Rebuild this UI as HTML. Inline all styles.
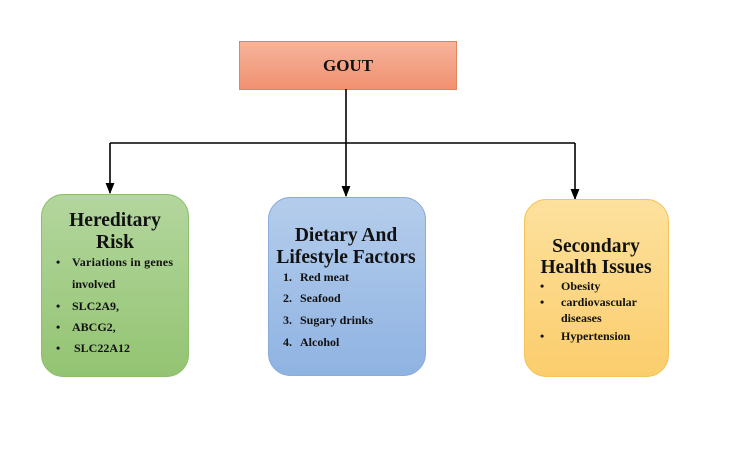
<!DOCTYPE html>
<html><head><meta charset="utf-8"><style>
body{margin:0;background:#fff;}
svg{display:block;}
text{font-family:"Liberation Serif",serif;font-weight:bold;fill:#111;}
</style></head><body>
<svg width="741" height="461" viewBox="0 0 741 461" xmlns="http://www.w3.org/2000/svg">
<defs>
<linearGradient id="gs" x1="0" y1="0" x2="0" y2="1"><stop offset="0" stop-color="#f6b49c"/><stop offset="1" stop-color="#f19070"/></linearGradient>
<linearGradient id="gg" x1="0" y1="0" x2="0" y2="1"><stop offset="0" stop-color="#b4d69e"/><stop offset="1" stop-color="#93c472"/></linearGradient>
<linearGradient id="gb" x1="0" y1="0" x2="0" y2="1"><stop offset="0" stop-color="#b5cdec"/><stop offset="1" stop-color="#8fb3e2"/></linearGradient>
<linearGradient id="gy" x1="0" y1="0" x2="0" y2="1"><stop offset="0" stop-color="#fde19e"/><stop offset="1" stop-color="#fbcd6c"/></linearGradient>
<marker id="ar" viewBox="0 0 10 10" refX="9" refY="5" markerWidth="7" markerHeight="7" orient="auto"><path d="M0,1 L10,5 L0,9 z" fill="#000"/></marker>
</defs>
<rect x="239.5" y="41.5" width="217" height="48" fill="url(#gs)" stroke="#e0855f"/>
<text x="348" y="71" font-size="17" text-anchor="middle">GOUT</text>
<g stroke="#000" stroke-width="1.6" fill="none">
<line x1="346" y1="89" x2="346" y2="143"/>
<line x1="110" y1="143" x2="575" y2="143"/>
<line x1="110" y1="143" x2="110" y2="193" marker-end="url(#ar)"/>
<line x1="346" y1="143" x2="346" y2="196" marker-end="url(#ar)"/>
<line x1="575" y1="143" x2="575" y2="199" marker-end="url(#ar)"/>
</g>
<rect x="41.5" y="194.5" width="147" height="182" rx="22" fill="url(#gg)" stroke="#8cbf6c"/>
<rect x="268.5" y="197.5" width="157" height="178" rx="22" fill="url(#gb)" stroke="#88acdc"/>
<rect x="524.5" y="199.5" width="144" height="177" rx="22" fill="url(#gy)" stroke="#f3c457"/>
<g font-size="19.5" text-anchor="middle">
<text x="115" y="226">Hereditary</text>
<text x="115" y="248">Risk</text>
<text x="346" y="241">Dietary And</text>
<text x="346" y="263">Lifestyle Factors</text>
<text x="596" y="252">Secondary</text>
<text x="596" y="273">Health Issues</text>
</g>
<g font-size="12">
<text x="56" y="266">•</text><text x="72" y="266" textLength="101">Variations in genes</text>
<text x="72" y="288">involved</text>
<text x="56" y="310">•</text><text x="72" y="310">SLC2A9,</text>
<text x="56" y="331">•</text><text x="72" y="331">ABCG2,</text>
<text x="56" y="352">•</text><text x="74" y="352">SLC22A12</text>
<text x="283" y="281">1.</text><text x="300" y="281">Red meat</text>
<text x="283" y="302">2.</text><text x="300" y="302">Seafood</text>
<text x="283" y="324">3.</text><text x="300" y="324">Sugary drinks</text>
<text x="283" y="346">4.</text><text x="300" y="346">Alcohol</text>
<text x="540" y="290">•</text><text x="561" y="290">Obesity</text>
<text x="540" y="306">•</text><text x="561" y="306">cardiovascular</text>
<text x="561" y="322">diseases</text>
<text x="540" y="340">•</text><text x="561" y="340">Hypertension</text>
</g>
</svg>
</body></html>
